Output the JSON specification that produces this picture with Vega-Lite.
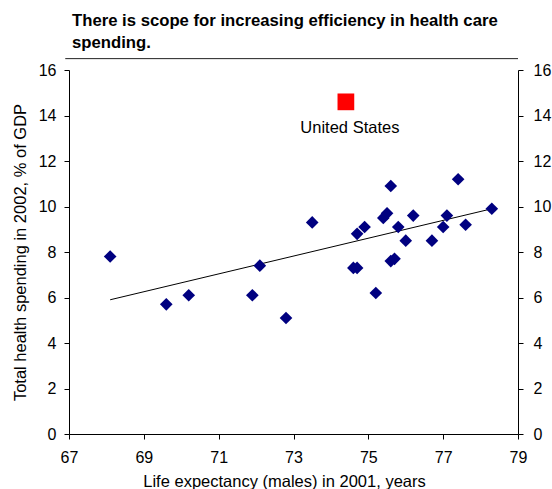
{
  "$schema": "https://vega.github.io/schema/vega-lite/v6.json",
  "width": 449,
  "height": 364,
  "autosize": {"type": "none"},
  "padding": {"left": 69, "top": 70, "right": 34, "bottom": 55},
  "background": "white",
  "title": {
    "text": ["There is scope for increasing efficiency in health care", "spending."],
    "font": "Liberation Sans",
    "fontSize": 16.7,
    "fontWeight": "bold",
    "color": "black",
    "anchor": "start",
    "frame": "group",
    "dx": 3,
    "lineHeight": 22,
    "offset": 6
  },
  "config": {
    "view": {"stroke": null},
    "axis": {
      "domainColor": "black",
      "tickColor": "black",
      "labelColor": "black",
      "titleColor": "black",
      "labelFont": "Liberation Sans",
      "titleFont": "Liberation Sans",
      "labelFontSize": 16,
      "titleFontSize": 16.5,
      "titleFontWeight": "normal",
      "grid": false,
      "tickSize": 5,
      "labelPadding": 8,
      "labelFlush": false
    }
  },
  "datasets": {
    "countries": [
      {"life": 68.1, "spend": 7.8},
      {"life": 69.6, "spend": 5.7},
      {"life": 70.2, "spend": 6.1},
      {"life": 71.9, "spend": 6.1},
      {"life": 72.1, "spend": 7.4},
      {"life": 72.8, "spend": 5.1},
      {"life": 73.5, "spend": 9.3},
      {"life": 74.6, "spend": 7.3},
      {"life": 74.7, "spend": 7.3},
      {"life": 74.7, "spend": 8.8},
      {"life": 74.9, "spend": 9.1},
      {"life": 75.2, "spend": 6.2},
      {"life": 75.4, "spend": 9.5},
      {"life": 75.5, "spend": 9.7},
      {"life": 75.6, "spend": 10.9},
      {"life": 75.6, "spend": 7.6},
      {"life": 75.7, "spend": 7.7},
      {"life": 75.8, "spend": 9.1},
      {"life": 76.0, "spend": 8.5},
      {"life": 76.2, "spend": 9.6},
      {"life": 76.7, "spend": 8.5},
      {"life": 77.0, "spend": 9.1},
      {"life": 77.1, "spend": 9.6},
      {"life": 77.4, "spend": 11.2},
      {"life": 77.6, "spend": 9.2},
      {"life": 78.3, "spend": 9.9}
    ],
    "us": [
      {"life": 74.4, "spend": 14.6, "name": "United States"}
    ],
    "trend": [
      {"life": 68.1, "spend": 5.9},
      {"life": 78.3, "spend": 9.9}
    ]
  },
  "layer": [
    {
      "data": {"values": [{}]},
      "mark": {"type": "rule", "color": "#222222", "strokeWidth": 1, "clip": false},
      "encoding": {
        "x": {"datum": 66.9, "type": "quantitative", "scale": {"domain": [67, 79], "nice": false, "zero": false}},
        "x2": {"datum": 79},
        "y": {"datum": 16.5, "type": "quantitative", "scale": {"domain": [0, 16], "nice": false}, "axis": null}
      }
    },
    {
      "data": {"name": "trend"},
      "mark": {"type": "line", "color": "black", "strokeWidth": 1},
      "encoding": {
        "x": {"field": "life", "type": "quantitative"},
        "y": {"field": "spend", "type": "quantitative", "axis": null}
      }
    },
    {
      "data": {"name": "countries"},
      "mark": {"type": "point", "shape": "diamond", "filled": true, "color": "#000080", "size": 160, "opacity": 1},
      "encoding": {
        "x": {
          "field": "life",
          "type": "quantitative",
          "axis": {
            "title": "Life expectancy (males) in 2001, years",
            "values": [67, 69, 71, 73, 75, 77, 79],
            "labelPadding": 10,
            "titlePadding": 8,
            "titleX": 215
          }
        },
        "y": {
          "field": "spend",
          "type": "quantitative",
          "axis": {
            "orient": "left",
            "title": "Total health spending in 2002, % of GDP",
            "values": [0, 2, 4, 6, 8, 10, 12, 14, 16],
            "titlePadding": 10
          }
        }
      }
    },
    {
      "data": {"name": "us"},
      "mark": {"type": "point", "shape": "square", "filled": true, "color": "#FF0000", "size": 280, "opacity": 1},
      "encoding": {
        "x": {"field": "life", "type": "quantitative"},
        "y": {
          "field": "spend",
          "type": "quantitative",
          "axis": {
            "orient": "right",
            "title": null,
            "labelPadding": 10,
            "values": [0, 2, 4, 6, 8, 10, 12, 14, 16]
          }
        }
      }
    },
    {
      "data": {"name": "us"},
      "mark": {"type": "text", "font": "Liberation Sans", "fontSize": 16.5, "color": "black", "dy": 26, "dx": 4},
      "encoding": {
        "x": {"field": "life", "type": "quantitative"},
        "y": {"field": "spend", "type": "quantitative", "axis": null},
        "text": {"field": "name"}
      }
    }
  ],
  "resolve": {"axis": {"y": "independent"}}
}
